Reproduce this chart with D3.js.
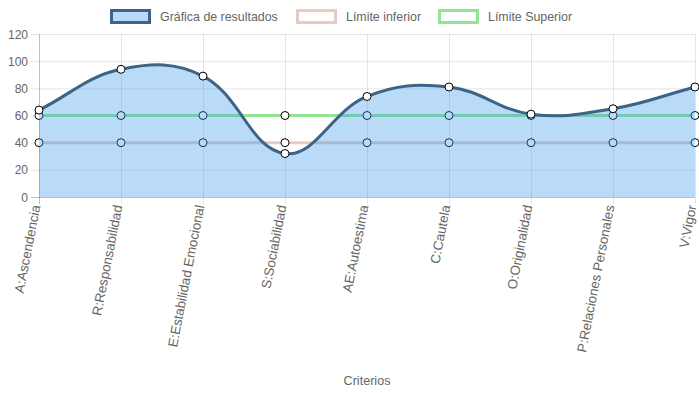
<!DOCTYPE html>
<html>
<head>
<meta charset="utf-8">
<script src="https://cdn.jsdelivr.net/npm/d3@7"></script>
<style>
  body { margin: 0; background: #fff; }
  text { font-family: "Liberation Sans", Arial, Helvetica, sans-serif; }
</style>
</head>
<body>
<div id="chart"></div>
<script>
const categories = ["A:Ascendencia", "R:Responsabilidad", "E:Estabilidad Emocional", "S:Sociabilidad",
  "AE:Autoestima", "C:Cautela", "O:Originalidad", "P:Relaciones Personales", "V:Vigor"];
const resultados = [64, 94, 89, 32, 74, 81, 61, 65, 81];
const limiteInferior = [40, 40, 40, 40, 40, 40, 40, 40, 40];
const limiteSuperior = [60, 60, 60, 60, 60, 60, 60, 60, 60];
const yTicks = [0, 20, 40, 60, 80, 100, 120];
const legendLabels = ["Gráfica de resultados", "Límite inferior", "Límite Superior"];

const width = 699, height = 393;
const area = { left: 39, right: 695, top: 34, bottom: 197 };

const svg = d3.select("#chart").append("svg")
  .attr("width", width)
  .attr("height", height);

const x = d3.scalePoint().domain(categories).range([area.left, area.right]);
const y = d3.scaleLinear().domain([0, 120]).range([area.bottom, area.top]);

// grid
svg.append("g").selectAll("line").data(yTicks).enter().append("line")
  .attr("x1", area.left - 8).attr("x2", area.right)
  .attr("y1", d => y(d) + 0.5).attr("y2", d => y(d) + 0.5)
  .attr("stroke", d => d === 0 ? "rgba(0,0,0,0.25)" : "rgba(0,0,0,0.1)");

svg.append("g").selectAll("line").data(categories).enter().append("line")
  .attr("x1", d => x(d) + 0.5).attr("x2", d => x(d) + 0.5)
  .attr("y1", area.top).attr("y2", area.bottom + 7)
  .attr("stroke", (d, i) => i === 0 ? "rgba(0,0,0,0.25)" : "rgba(0,0,0,0.1)");

// y labels
svg.append("g").selectAll("text").data(yTicks).enter().append("text")
  .attr("x", area.left - 11).attr("y", d => y(d) + 4.5)
  .attr("text-anchor", "end").attr("font-size", 12).attr("fill", "#666")
  .text(d => d);

// x labels
svg.append("g").selectAll("text").data(categories).enter().append("text")
  .attr("transform", d => `translate(${x(d) + 1.5},${area.bottom + 9}) rotate(-79)`)
  .attr("text-anchor", "end").attr("font-size", 13.4).attr("fill", "#666")
  .text(d => d);

svg.append("text")
  .attr("x", (area.left + area.right) / 2).attr("y", 385)
  .attr("text-anchor", "middle").attr("font-size", 12.6).attr("fill", "#666")
  .text("Criterios");

// spline like Chart.js (tension 0.4)
function splinePath(values, t) {
  const pts = values.map((v, i) => ({ x: x(categories[i]), y: y(v) }));
  const ctrl = pts.map((p, i) => {
    const p0 = pts[i - 1] || p, p2 = pts[i + 1] || p;
    const d01 = Math.hypot(p.x - p0.x, p.y - p0.y);
    const d12 = Math.hypot(p2.x - p.x, p2.y - p.y);
    let s01 = d01 / (d01 + d12), s12 = d12 / (d01 + d12);
    if (isNaN(s01)) s01 = 0;
    if (isNaN(s12)) s12 = 0;
    const fa = t * s01, fb = t * s12;
    return {
      prev: { x: p.x - fa * (p2.x - p0.x), y: p.y - fa * (p2.y - p0.y) },
      next: { x: p.x + fb * (p2.x - p0.x), y: p.y + fb * (p2.y - p0.y) }
    };
  });
  const path = d3.path();
  path.moveTo(pts[0].x, pts[0].y);
  for (let i = 1; i < pts.length; i++) {
    path.bezierCurveTo(ctrl[i - 1].next.x, ctrl[i - 1].next.y,
      ctrl[i].prev.x, ctrl[i].prev.y, pts[i].x, pts[i].y);
  }
  return { d: path.toString(), pts };
}

function drawPoints(values) {
  svg.append("g").selectAll("circle").data(values).enter().append("circle")
    .attr("cx", (d, i) => x(categories[i]))
    .attr("cy", d => y(d))
    .attr("r", 4)
    .attr("fill", "#fff")
    .attr("stroke", "#000")
    .attr("stroke-width", 1);
}

// datasets drawn in reverse order
const sup = splinePath(limiteSuperior, 0.4);
svg.append("path").attr("d", sup.d).attr("fill", "none")
  .attr("stroke", "#92e595").attr("stroke-width", 3);
drawPoints(limiteSuperior);

const inf = splinePath(limiteInferior, 0.4);
svg.append("path").attr("d", inf.d).attr("fill", "none")
  .attr("stroke", "#e7cbc3").attr("stroke-width", 3);
drawPoints(limiteInferior);

const res = splinePath(resultados, 0.4);
svg.append("path")
  .attr("d", res.d + `L${area.right},${y(0)}L${area.left},${y(0)}Z`)
  .attr("fill", "rgba(54,152,235,0.35)");
svg.append("path").attr("d", res.d).attr("fill", "none")
  .attr("stroke", "#3d6486").attr("stroke-width", 3);
drawPoints(resultados);

// legend
const legendStyles = [
  { fill: "rgba(54,152,235,0.35)", stroke: "#3d6486" },
  { fill: "#fff", stroke: "#e7cbc3" },
  { fill: "#fff", stroke: "#92e595" }
];
const legendX = [110, 296, 438];
const legend = svg.append("g").selectAll("g").data(legendLabels).enter().append("g")
  .attr("transform", (d, i) => `translate(${legendX[i]},10)`);
legend.append("rect")
  .attr("x", 1.5).attr("y", 0.5).attr("width", 38).attr("height", 12)
  .attr("fill", (d, i) => legendStyles[i].fill)
  .attr("stroke", (d, i) => legendStyles[i].stroke)
  .attr("stroke-width", 3);
legend.append("text")
  .attr("x", 50).attr("y", 11)
  .attr("font-size", 12.4).attr("fill", "#666")
  .text(d => d);
</script>
</body>
</html>
